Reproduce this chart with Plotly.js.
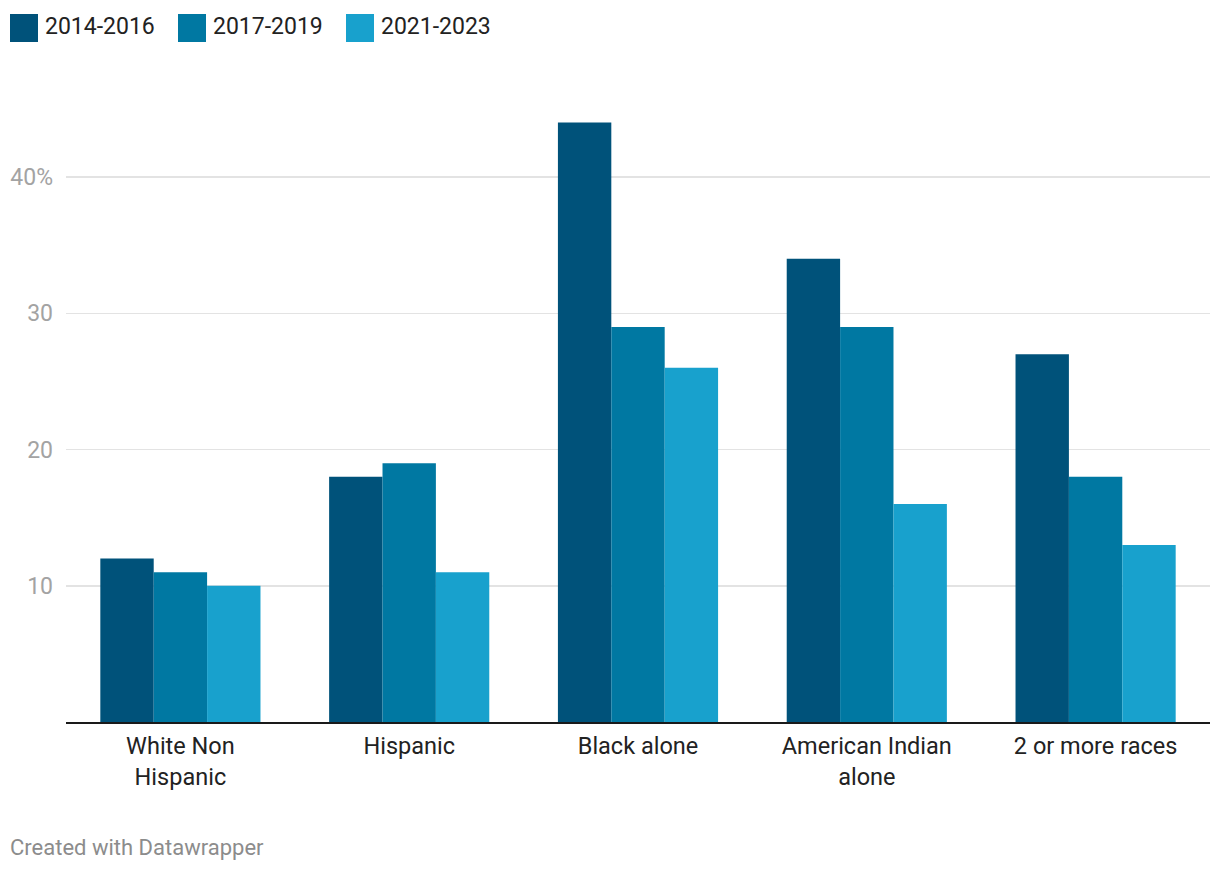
<!DOCTYPE html>
<html>
<head>
<meta charset="utf-8">
<script src="https://cdn.plot.ly/plotly-3.0.1.min.js"></script>
<style>
  html, body { margin: 0; padding: 0; background: #fff; }
  #chart { width: 1220px; height: 872px; }
</style>
</head>
<body>
<div id="chart"></div>
<script>
const categories = ["White Non<br>Hispanic", "Hispanic", "Black alone", "American Indian<br>alone", "2 or more races"];
const seriesNames = ["2014-2016", "2017-2019", "2021-2023"];
const values2014_2016 = [12, 18, 44, 34, 27];
const values2017_2019 = [11, 19, 29, 29, 18];
const values2021_2023 = [10, 11, 26, 16, 13];
const yTickVals = [10, 20, 30, 40];
const yTickText = ["10", "20", "30", "40%"];
const footerText = "Created with Datawrapper";

const colors = ["#00527a", "#0078a2", "#18a1cd"];
const seriesValues = [values2014_2016, values2017_2019, values2021_2023];

const W = 1220, H = 872;
const M = {l: 66, r: 10, t: 109, b: 150};
const plotW = W - M.l - M.r, plotH = H - M.t - M.b;
const px2x = px => (px - M.l) / plotW;
const py2y = py => (H - M.b - py) / plotH;

const traces = seriesNames.map((name, i) => ({
  type: "bar",
  name: name,
  x: categories,
  y: seriesValues[i],
  marker: {color: colors[i], line: {width: 0}},
  hoverinfo: "x+y+name",
  showlegend: false
}));

// legend built from series names
const legendSquares = [10, 178, 346];
const shapes = [];
const annotations = [];
seriesNames.forEach((name, i) => {
  const x0 = legendSquares[i];
  shapes.push({
    type: "rect", xref: "paper", yref: "paper",
    x0: px2x(x0), x1: px2x(x0 + 28), y0: py2y(42), y1: py2y(14),
    fillcolor: colors[i], line: {width: 0}
  });
  annotations.push({
    xref: "paper", yref: "paper", x: px2x(x0 + 33), y: py2y(27),
    xanchor: "left", yanchor: "middle", showarrow: false,
    text: name, font: {family: "Roboto", size: 23, color: "#222"}
  });
});
annotations.push({
  xref: "paper", yref: "paper", x: px2x(8), y: py2y(847),
  xanchor: "left", yanchor: "middle", showarrow: false,
  text: footerText, font: {family: "Roboto", size: 22, color: "#8c8c8c"}
});

const layout = {
  width: W, height: H,
  margin: M,
  paper_bgcolor: "#fff", plot_bgcolor: "#fff",
  font: {family: "Roboto", color: "#222"},
  barmode: "group",
  bargap: 0.3,
  bargroupgap: 0,
  showlegend: false,
  xaxis: {
    type: "category",
    range: [-0.5, 4.5],
    showgrid: false,
    showline: true, linecolor: "#1a1a1a", linewidth: 2,
    ticks: "", tickfont: {family: "Roboto", size: 23.5, color: "#222"},
    ticklabelstandoff: 2,
    fixedrange: true
  },
  yaxis: {
    range: [0, 45],
    tickvals: yTickVals, ticktext: yTickText,
    showgrid: true, gridcolor: "#e3e3e3", gridwidth: 1.5,
    zeroline: false, showline: false,
    ticks: "", ticklabelstandoff: 12,
    tickfont: {family: "Roboto", size: 23, color: "#a3a3a3"},
    fixedrange: true
  },
  shapes: shapes,
  annotations: annotations
};

Plotly.newPlot("chart", traces, layout, {displayModeBar: false, staticPlot: true});
</script>
</body>
</html>
